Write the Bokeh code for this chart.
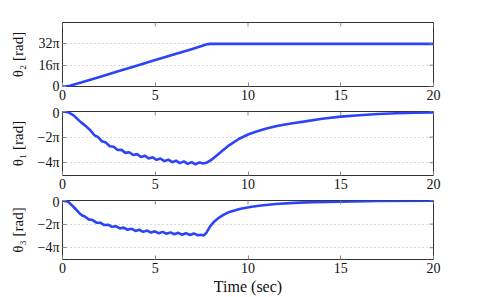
import math
from bokeh.plotting import figure
from bokeh.layouts import column
from bokeh.models import Range1d, FixedTicker
from bokeh.embed import file_html
from bokeh.resources import INLINE

# ---- data (angles in units of pi) ----
t2 = [0, 0.2, 0.4, 1.0, 2.0, 3.0, 4.0, 5.0, 6.0, 7.0, 7.5, 7.7, 7.85, 8.0, 20]
th2 = [0, 0.1, 0.6, 3.0, 7.2, 11.4, 15.6, 19.8, 24.0, 28.2, 30.4, 31.3, 31.8, 32, 32]

t1 = [0, 0.3, 0.6, 1.0, 1.3, 1.50, 1.71, 1.92, 2.13, 2.34, 2.55, 2.76, 2.97, 3.18,
      3.39, 3.60, 3.81, 4.02, 4.23, 4.44, 4.65, 4.86, 5.07, 5.28, 5.49, 5.70, 5.91,
      6.12, 6.33, 6.54, 6.75, 6.96, 7.17, 7.38, 7.59, 7.80, 8.0, 8.3, 8.6, 9.0, 9.5,
      10.0, 10.5, 11.0, 11.5, 12.0, 12.5, 13.0, 14.0, 15.0, 16.0, 17.0, 18.0, 19.0, 20.0]
th1 = [0, -0.05, -0.3, -0.85, -1.2, -1.46, -1.84, -2.01, -2.33, -2.43, -2.72, -2.76,
       -3.01, -3.00, -3.23, -3.18, -3.40, -3.33, -3.55, -3.45, -3.67, -3.57, -3.78,
       -3.67, -3.88, -3.76, -3.96, -3.84, -4.03, -3.90, -4.09, -3.95, -4.13, -3.98,
       -4.06, -3.98, -3.8, -3.45, -3.08, -2.62, -2.15, -1.8, -1.54, -1.33, -1.16,
       -1.02, -0.9, -0.79, -0.56, -0.4, -0.29, -0.2, -0.14, -0.1, -0.07]

t3 = [0, 0.3, 0.6, 0.9, 1.05, 1.20, 1.41, 1.62, 1.83, 2.04, 2.25, 2.46, 2.67, 2.88,
      3.09, 3.30, 3.51, 3.72, 3.93, 4.14, 4.35, 4.56, 4.77, 4.98, 5.19, 5.40, 5.61,
      5.82, 6.03, 6.24, 6.45, 6.66, 6.87, 7.08, 7.29, 7.45, 7.60, 7.75, 7.98, 8.2,
      8.4, 8.7, 9.0, 9.6, 10.2, 10.7, 11.5, 12.5, 13.5, 15.0, 17.0, 20.0]
th3 = [0, -0.1, -0.55, -1.05, -1.25, -1.35, -1.60, -1.66, -1.88, -1.88, -2.08, -2.05,
       -2.23, -2.18, -2.36, -2.30, -2.48, -2.39, -2.58, -2.48, -2.66, -2.55, -2.72,
       -2.61, -2.78, -2.66, -2.82, -2.70, -2.86, -2.74, -2.90, -2.77, -2.92, -2.79,
       -2.94, -2.90, -2.96, -2.75, -2.15, -1.75, -1.5, -1.2, -0.97, -0.7, -0.53,
       -0.42, -0.3, -0.2, -0.14, -0.1, -0.04, -0.01]

x_ticks = [0, 5, 10, 15, 20]
y2_ticks = [0, 16, 32]
y2_labels = ["0", "16π", "32π"]
y13_ticks = [-4, -2, 0]
y13_labels = ["−4π", "−2π", "0"]

FONT = "Liberation Serif"
BLUE = "#2b44f8"
TICK_C = "#888888"


def make_panel(t, y, yr, yticks, ylabels, ylabel, height, top, bottom, xlabel=None):
    p = figure(width=465, height=height, output_backend="svg", toolbar_location=None,
               x_range=Range1d(0, 20), y_range=Range1d(*yr),
               min_border_left=62, min_border_right=32,
               min_border_top=top, min_border_bottom=bottom)
    p.background_fill_color = "white"
    p.border_fill_color = "white"
    p.outline_line_color = "#333333"
    p.outline_line_width = 1

    p.xgrid.visible = False
    p.ygrid.ticker = FixedTicker(ticks=yticks)
    p.ygrid.grid_line_color = "#b0b0b0"
    p.ygrid.grid_line_dash = "1 3"
    p.ygrid.grid_line_width = 1

    p.line(t, y, line_color=BLUE, line_width=2.6)

    # mirrored inward ticks on top and right edges
    p.ray(x=x_ticks, y=[yr[1]] * len(x_ticks), length=4, length_units="screen",
          angle=-math.pi / 2, line_color=TICK_C, line_width=1)
    p.ray(x=[20] * len(yticks), y=yticks, length=4, length_units="screen",
          angle=math.pi, line_color=TICK_C, line_width=1)

    xa = p.xaxis[0]
    xa.ticker = FixedTicker(ticks=x_ticks)
    ya = p.yaxis[0]
    ya.ticker = FixedTicker(ticks=yticks)
    ya.major_label_overrides = {float(k): v for k, v in zip(yticks, ylabels)}
    for ax in (xa, ya):
        ax.axis_line_color = None
        ax.major_tick_in = 4
        ax.major_tick_out = 0
        ax.major_tick_line_color = TICK_C
        ax.minor_tick_line_color = None
        ax.major_label_text_font = FONT
        ax.major_label_text_font_size = "14px"
        ax.major_label_text_color = "#111111"
        ax.major_label_standoff = 3
    ya.axis_label = ylabel
    ya.axis_label_text_font = FONT
    ya.axis_label_text_font_size = "15px"
    ya.axis_label_text_font_style = "normal"
    ya.axis_label_text_color = "#111111"
    ya.axis_label_standoff = 9
    if xlabel:
        xa.axis_label = xlabel
        xa.axis_label_text_font = FONT
        xa.axis_label_text_font_size = "16px"
        xa.axis_label_text_font_style = "normal"
        xa.axis_label_text_color = "#111111"
        xa.axis_label_standoff = 2
    return p


p1 = make_panel(t2, th2, (0, 48), y2_ticks, y2_labels, "θ₂ [rad]", 105, 22, 19)
p2 = make_panel(t1, th1, (-5, 0), y13_ticks, y13_labels, "θ₁ [rad]", 89, 6, 19)
p3 = make_panel(t3, th3, (-5, 0), y13_ticks, y13_labels, "θ₃ [rad]", 103, 6, 33,
                xlabel="Time (sec)")

layout = column(p1, p2, p3, spacing=0)
open("out.html", "w").write(file_html(layout, INLINE))
